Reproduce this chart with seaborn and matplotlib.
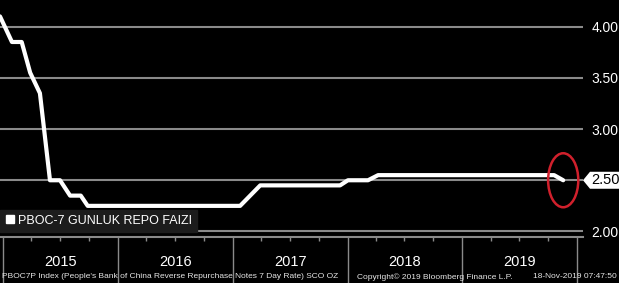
import matplotlib
matplotlib.use("Agg")
import matplotlib.pyplot as plt
import matplotlib.dates as mdates
import matplotlib.transforms as mtransforms
from matplotlib.patches import Ellipse, Polygon
from matplotlib.lines import Line2D
import numpy as np
import pandas as pd
import seaborn as sns

# ---- data ----
dates = ["2014-12-22", "2015-01-29", "2015-03-01", "2015-03-28", "2015-04-28",
         "2015-05-30", "2015-07-01", "2015-08-02", "2015-09-05", "2015-09-27",
         "2017-01-24", "2017-03-29", "2017-12-08", "2018-01-02", "2018-03-07",
         "2018-04-08", "2019-10-20", "2019-11-18"]
rates = [4.10, 3.85, 3.85, 3.55, 3.35,
         2.50, 2.50, 2.35, 2.35, 2.25,
         2.25, 2.45, 2.45, 2.50, 2.50,
         2.55, 2.55, 2.50]
series_label = "PBOC-7 GUNLUK REPO FAIZI"
years = [2015, 2016, 2017, 2018, 2019]
y_ticks = [2.00, 2.50, 3.00, 3.50, 4.00]
last_label = "2.50"
footer_left = "PBOC7P Index (People's Bank of China Reverse Repurchase Notes 7 Day Rate) SCO OZ"
footer_mid = "Copyright\u00a9 2019 Bloomberg Finance L.P."
footer_right = "18-Nov-2019 07:47:50"

df = pd.DataFrame({"date": pd.to_datetime(dates), "rate": rates})

sns.set_theme(style="dark")
plt.rcParams["font.family"] = ["Liberation Sans", "DejaVu Sans"]

W, H = 619, 283
fig = plt.figure(figsize=(W / 100, H / 100), dpi=100, facecolor="black")
ax = fig.add_axes([0, 1 - 237 / H, 583 / W, 237 / H])
ax.set_facecolor("black")

grid_col = "#8a8a8a"
sns.lineplot(data=df, x="date", y="rate", ax=ax, color="white", lw=3.0,
             zorder=5, legend=False)

ax.set_ylim(1.946, 4.26)
ax.set_xlim(pd.Timestamp("2014-12-22"), pd.Timestamp("2020-01-20"))

ax.set_yticks(y_ticks)
ax.yaxis.tick_right()
ax.set_yticklabels([f"{v:.2f}" if abs(v - 2.5) > 1e-9 else "" for v in y_ticks])
ax.tick_params(axis="y", length=0, pad=6, labelcolor="white", labelsize=10)
ax.grid(axis="y", color=grid_col, lw=1.5)
ax.grid(axis="x", visible=False)

ax.xaxis.set_major_locator(mdates.YearLocator())
ax.xaxis.set_minor_locator(mdates.MonthLocator(bymonth=[4, 7, 10]))
ax.xaxis.set_major_formatter(plt.NullFormatter())
ax.xaxis.set_minor_formatter(plt.NullFormatter())
ax.tick_params(axis="x", which="major", bottom=True, direction="out",
               length=34, width=1.0, color=grid_col)
ax.tick_params(axis="x", which="minor", bottom=True, direction="out",
               length=3, width=1.0, color=grid_col)
ax.set_xlabel("")
ax.set_ylabel("")

for s in ["top", "left", "right"]:
    ax.spines[s].set_visible(False)
ax.spines["bottom"].set_color(grid_col)
ax.spines["bottom"].set_linewidth(1.5)

# year labels centred in each year span
btrans = mtransforms.blended_transform_factory(ax.transData, fig.transFigure)
for yr in years:
    xc = mdates.date2num(pd.Timestamp(f"{yr}-07-02"))
    ax.text(xc, 0.074, str(yr), transform=btrans, ha="center", va="center",
            color="white", fontsize=10.5)

# legend
handle = Line2D([], [], ls="none", marker="s", color="white", markersize=6)
leg = ax.legend([handle], [series_label], loc="lower left",
                bbox_to_anchor=(0.0, 0.022), frameon=True, fancybox=False,
                handlelength=0.8, handletextpad=0.2, borderpad=0.4,
                borderaxespad=0, fontsize=9)
leg.get_frame().set_facecolor("#1c1c1c")
leg.get_frame().set_edgecolor("#1c1c1c")
leg.get_frame().set_alpha(1)
for t in leg.get_texts():
    t.set_color("white")

# last-value tag on right
last_val = rates[-1]
ttrans = mtransforms.blended_transform_factory(ax.transAxes, ax.transData)
pw = 1 / 583
ph = 1 / 102.4
tag = Polygon([(1.0, last_val), (1 + 7 * pw, last_val + 8.5 * ph),
               (1 + 40 * pw, last_val + 8.5 * ph), (1 + 40 * pw, last_val - 8.5 * ph),
               (1 + 7 * pw, last_val - 8.5 * ph)], closed=True, transform=ttrans,
              facecolor="white", edgecolor="none", clip_on=False, zorder=6)
ax.add_patch(tag)
ax.text(1 + 8 * pw, last_val, last_label, transform=ttrans, ha="left",
        va="center", color="black", fontsize=10.5, zorder=7, clip_on=False)

# red ellipse highlighting the last move
xc = mdates.date2num(pd.Timestamp(dates[-1]))
ell = Ellipse((xc, last_val), width=96, height=54 / 102.4, fill=False,
              edgecolor="#d0202c", lw=1.8, zorder=8)
ax.add_patch(ell)

# footer
fig.text(2 / W, 6 / H, footer_left, color="#e6e6e6", fontsize=6.0,
         ha="left", va="center")
fig.text(357 / W, 6 / H, footer_mid, color="#e6e6e6", fontsize=6.0,
         ha="left", va="center")
fig.text(617 / W, 6 / H, footer_right, color="#e6e6e6", fontsize=6.0,
         ha="right", va="center")

fig.savefig("out.png", dpi=100, facecolor="black")
